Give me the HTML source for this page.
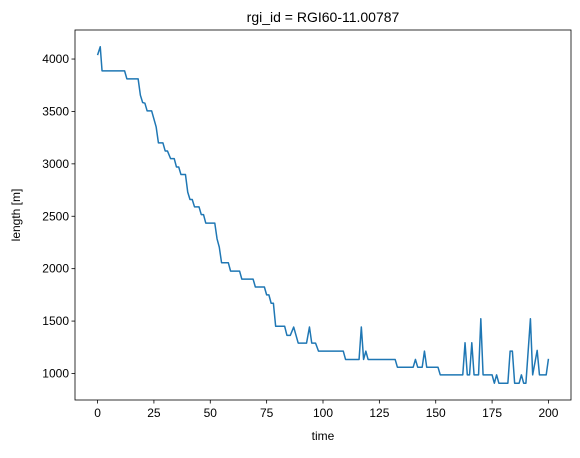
<!DOCTYPE html>
<html><head><meta charset="utf-8"><style>
body{margin:0;background:#fff;font-family:"Liberation Sans","DejaVu Sans",sans-serif}
</style></head><body>
<svg id="chart" width="580" height="453" xmlns="http://www.w3.org/2000/svg" font-family="'Liberation Sans','DejaVu Sans',sans-serif" font-size="12">
<rect width="580" height="453" fill="#fff"/>
<g id="plot"></g>
<g id="axes"></g>
</svg>
<script>
const years=[0,1.2,2,12,13,18,19,20,21,22,24,26,27,29,30,31,32.4,34,35,36,37,39,40,41,42,43,45,46,47,48,52,53,54,55,58,59,63,64,69,70,74,75,76,77,78,79,83,84,85.5,87,89,92.7,94,95,96.7,98,109,110,116,117,118,119,120,132,133,140,141,142,144,145,146,151,152,162,163,164,165,166,167,169,170,171,175,176,177,178,182,183,184,185,187,188,189,190,192,193,195,196,199,200];
const lengths=[4037,4117,3887,3887,3811,3811,3655,3585,3579,3505,3505,3352,3200,3200,3123,3123,3050,3050,2970,2970,2898,2898,2730,2660,2660,2590,2590,2516,2516,2435,2435,2285,2205,2057,2057,1977,1977,1900,1900,1825,1825,1750,1750,1670,1670,1450,1450,1364,1364,1443,1290,1290,1443,1290,1290,1213,1213,1134,1134,1443,1134,1213,1134,1134,1060,1060,1134,1060,1060,1213,1060,1060,987,987,1293,987,987,1293,987,987,1522,987,987,907,987,907,907,1213,1213,907,907,987,907,907,1522,987,1220,987,987,1140];
const xTicks=[0,25,50,75,100,125,150,175,200];
const yTicks=[1000,1500,2000,2500,3000,3500,4000];
const L=75,R=571,T=30,B=400,xMin=-10,xMax=210,yMin=747,yMax=4277;
const sx=v=>L+(v-xMin)/(xMax-xMin)*(R-L);
const sy=v=>B-(v-yMin)/(yMax-yMin)*(B-T);
const NS="http://www.w3.org/2000/svg";
const plot=document.getElementById('plot'),axes=document.getElementById('axes');
function mk(tag,attrs,parent){const e=document.createElementNS(NS,tag);for(const k in attrs)e.setAttribute(k,attrs[k]);parent.appendChild(e);return e;}
const line=mk('polyline',{points:years.map((y,i)=>sx(y).toFixed(2)+','+sy(lengths[i]).toFixed(2)).join(' '),fill:'none',stroke:'#1f77b4','stroke-width':1.5,'stroke-linejoin':'round'},plot);


const frame=mk('rect',{x:L,y:T,width:R-L,height:B-T,fill:'none',stroke:'#000','stroke-width':0.8},axes);


xTicks.forEach(t=>{
  const g=mk('g',{},axes);
  
  
  mk('line',{x1:sx(t),x2:sx(t),y1:B,y2:B+3.5,stroke:'#000','stroke-width':0.8},g);
  const tx=mk('text',{x:sx(t),y:B+17,'text-anchor':'middle',fill:'#000'},g);tx.textContent=t;
});
yTicks.forEach(t=>{
  const g=mk('g',{},axes);
  
  
  mk('line',{x1:L-3.5,x2:L,y1:sy(t),y2:sy(t),stroke:'#000','stroke-width':0.8},g);
  const tx=mk('text',{x:L-6,y:sy(t)+4,'text-anchor':'end',fill:'#000'},g);tx.textContent=t;
});
</script>
<svg style="position:absolute;left:0;top:0" width="580" height="453" font-family="'Liberation Sans','DejaVu Sans',sans-serif">
<text x="323" y="22" text-anchor="middle" font-size="14">rgi_id = RGI60-11.00787</text>
<text x="323" y="440" text-anchor="middle" font-size="12">time</text>
<text x="20" y="215" text-anchor="middle" font-size="12" transform="rotate(-90 20 215)">length [m]</text>
</svg>
</body></html>
